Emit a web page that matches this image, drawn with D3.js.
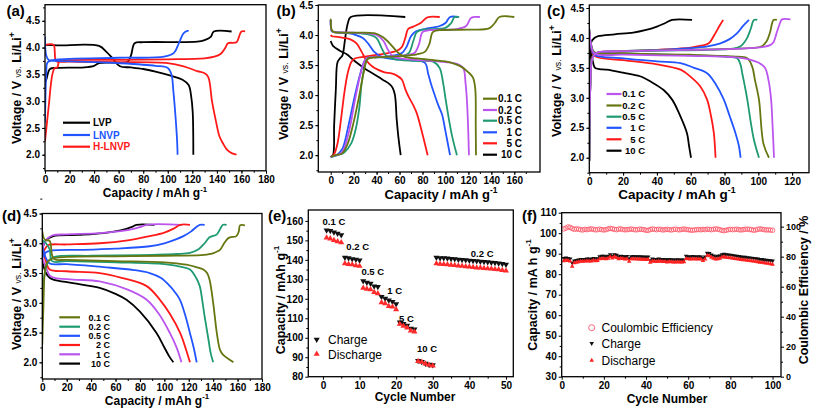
<!DOCTYPE html>
<html><head><meta charset="utf-8">
<script src="https://cdn.jsdelivr.net/npm/d3@7"></script>
<style>body{margin:0;background:#fff}svg{display:block}</style>
</head><body><svg id="c" width="813" height="409"></svg>
<script>
// ---------------- DATA ----------------
// (a) voltage profiles [capacity, voltage]
const aLVP_ch = [[0,3.35],[1.3,3.42],[4,3.6],[10,3.62],[32,3.63],[40,3.66],[44,3.71],[55,3.72],[67,3.73],[70,3.85],[73,4.08],[80,4.1],[124,4.11],[130,4.14],[135,4.2],[137.5,4.3],[152,4.3]];
const aLVP_dis = [[0,4.05],[10,4.04],[44,4.03],[50,3.92],[55,3.8],[61,3.65],[70,3.63],[80,3.6],[90,3.55],[103,3.47],[112,3.4],[117,3.3],[119,3.1],[120.3,2.8],[120.8,2.0]];
const aLNVP_ch = [[0,2.6],[1,3.5],[2,3.72],[5,3.76],[20,3.79],[60,3.81],[97,3.83],[105,3.9],[109,4.08],[113,4.27],[116,4.31],[117,4.31]];
const aLNVP_dis = [[0,4.2],[1,3.85],[3,3.77],[10,3.75],[40,3.73],[60,3.71],[90,3.66],[100,3.62],[103,3.5],[104.5,3.2],[106,2.8],[107.5,2.3],[108,2.0]];
const aHLNVP_ch = [[0,2.25],[3,2.9],[6,3.5],[8,3.62],[10,3.63],[11.5,3.74],[14,3.76],[60,3.77],[100,3.78],[130,3.8],[138,3.83],[143,3.88],[147,4.0],[149,4.08],[156,4.1],[158,4.2],[160,4.3],[163,4.3]];
const aHLNVP_dis = [[0,4.05],[7,4.05],[8,3.9],[9,3.75],[20,3.74],[60,3.73],[100,3.71],[113,3.65],[124,3.56],[130,3.52],[133,3.45],[136,3.0],[139,2.65],[142,2.35],[145,2.21],[148,2.1],[152,2.03],[156,2.0]];
const aNames = ["LVP","LNVP","H-LNVP"];

// (b) rate profiles
const b01_ch = [[0,1.97],[4,2.0],[10,2.03],[15,2.2],[20,2.55],[25,3.0],[29,3.4],[32,3.6],[40,3.63],[60,3.65],[75,3.68],[82,3.72],[86,3.85],[89,4.05],[95,4.08],[120,4.09],[138,4.11],[143,4.2],[147,4.3],[160,4.3]];
const b01_dis = [[0,4.27],[1,4.08],[3,4.05],[20,4.04],[38,4.03],[45,3.97],[52,3.85],[58,3.72],[64,3.64],[75,3.61],[90,3.58],[100,3.56],[108,3.52],[114,3.47],[120,3.38],[124,3.29],[126,3.1],[126.4,2.5],[126.6,2.0]];
const b02_ch = [[0,1.97],[5,2.0],[10,2.05],[16,2.4],[21,2.9],[26,3.35],[30,3.58],[34,3.63],[50,3.64],[65,3.66],[73,3.7],[77,3.85],[80,4.05],[86,4.08],[110,4.1],[118,4.15],[122,4.28],[124,4.3],[130,4.3]];
const b02_dis = [[0,4.25],[1,4.07],[3,4.05],[20,4.04],[40,4.0],[46,3.9],[50,3.75],[54,3.65],[60,3.61],[80,3.58],[100,3.55],[110,3.52],[115.5,3.45],[117.5,3.2],[118.5,2.98],[119.5,2.6],[120.5,2.0]];
const b05_ch = [[0,1.97],[6,2.0],[12,2.05],[18,2.2],[22,2.45],[25,2.8],[27,3.2],[30,3.5],[33,3.62],[50,3.63],[62,3.65],[68,3.7],[72,3.9],[75,4.05],[80,4.09],[100,4.12],[105,4.2],[108,4.3],[112,4.3]];
const b05_dis = [[0,4.25],[1,4.07],[3,4.05],[25,4.03],[35,4.0],[40,3.95],[44,3.8],[48,3.66],[55,3.6],[75,3.57],[90,3.55],[95,3.45],[98,3.2],[100,2.95],[103,2.6],[106,2.3],[110,2.0]];
const b1_ch = [[0,1.97],[5,2.0],[10,2.1],[15,2.45],[20,2.9],[25,3.3],[29,3.55],[32,3.62],[45,3.63],[55,3.66],[62,3.7],[66,3.8],[70,3.98],[74,4.06],[82,4.1],[95,4.15],[100,4.2],[104,4.3],[111,4.3]];
const b1_dis = [[0,4.25],[1,4.06],[3,4.05],[15,4.03],[22,4.0],[28,3.95],[33,3.85],[38,3.72],[44,3.64],[55,3.6],[70,3.58],[82,3.54],[85,3.35],[88,3.15],[91,2.98],[94,2.82],[97,2.68],[100,2.4],[104,2.0]];
const b5_ch = [[0,1.97],[3,2.02],[6,2.2],[9,2.6],[12,3.05],[15,3.38],[18,3.55],[21,3.61],[30,3.64],[40,3.67],[50,3.7],[58,3.74],[62,3.8],[65,3.95],[67.5,4.1],[72,4.14],[79,4.21],[83,4.28],[85,4.3],[95,4.3]];
const b5_dis = [[0,4.0],[1,3.98],[6,3.97],[12.5,3.95],[18,3.92],[22.5,3.86],[27,3.72],[31,3.58],[36,3.48],[41.5,3.42],[47,3.38],[53,3.36],[58,3.32],[62,3.26],[65,3.1],[68,2.97],[72,2.83],[75,2.7],[80,2.35],[84.5,2.0]];
const b10_ch = [[0,1.97],[2,2.0],[3,2.5],[4.5,3.1],[6,3.55],[8.5,3.62],[10,3.65],[11,3.72],[13,4.0],[15,4.2],[17.5,4.3],[65,4.3]];
const b10_dis = [[0,3.9],[2,3.82],[8,3.74],[14,3.68],[20,3.58],[27,3.48],[33,3.4],[38.5,3.34],[45,3.26],[51.5,3.18],[54,3.12],[56,3.0],[57.5,2.6],[59,2.3],[61,2.0]];
const bRates = ["0.1 C","0.2 C","0.5 C","1 C","5 C","10 C"];

// (c) rate profiles
const c01_ch = [[0,1.95],[0.6,3.2],[1.5,3.62],[3,3.72],[5,3.76],[20,3.78],[60,3.8],[90,3.82],[103,3.85],[107,3.88],[109,3.93],[111,4.1],[112.5,4.22],[114,4.31],[119,4.31]];
const c01_dis = [[0,4.15],[1,3.9],[3,3.74],[20,3.72],[60,3.7],[85,3.68],[95,3.64],[100,3.59],[104,3.5],[106,3.3],[107.5,3.0],[108.5,2.5],[109.3,2.0]];
const c02_ch = [[0,1.95],[0.6,3.2],[1.5,3.64],[3,3.73],[5,3.76],[30,3.79],[70,3.81],[95,3.83],[102,3.86],[105,3.95],[107,4.1],[109,4.3],[111,4.3]];
const c02_dis = [[0,4.15],[1,3.9],[3,3.76],[20,3.74],[60,3.72],[85,3.69],[93.5,3.66],[96.4,3.52],[98,3.3],[100.4,2.97],[103,2.24],[106.3,2.0]];
const c05_ch = [[0,1.95],[0.6,3.2],[1.5,3.65],[4,3.74],[30,3.78],[70,3.8],[85,3.82],[89.5,3.86],[93,3.98],[95.5,4.15],[97.4,4.3],[99.4,4.3]];
const c05_dis = [[0,4.15],[1,3.9],[3,3.76],[20,3.74],[60,3.71],[80,3.69],[87.5,3.66],[89.5,3.55],[90.5,3.41],[92,3.2],[93.5,2.97],[95.5,2.6],[97.4,2.3],[100.4,2.0]];
const c1_ch = [[0,1.95],[0.6,3.2],[1.5,3.66],[4,3.74],[20,3.78],[40,3.8],[60,3.83],[70,3.86],[77.6,3.91],[83,3.98],[87.5,4.08],[91,4.2],[94.5,4.3]];
const c1_dis = [[0,4.1],[1,3.85],[3,3.72],[20,3.66],[40,3.61],[53.9,3.58],[62,3.5],[69.7,3.41],[75,3.22],[79.6,2.97],[83,2.7],[86.5,2.41],[88.5,2.2],[89.5,2.0]];
const c5_ch = [[0,1.95],[0.6,3.2],[1.5,3.67],[4,3.74],[20,3.77],[40,3.8],[60,3.84],[66,3.87],[70.7,3.91],[74,4.05],[77,4.2],[79.2,4.3]];
const c5_dis = [[0,4.1],[1,3.85],[3,3.7],[20,3.63],[40,3.56],[54,3.47],[60,3.35],[65.7,3.19],[69.7,2.97],[72,2.7],[73.7,2.41],[74.7,2.0]];
const c10_ch = [[0,1.95],[0.5,3.6],[1,3.92],[3,4.0],[5.3,4.03],[15,4.06],[26,4.09],[33,4.13],[40,4.19],[45,4.25],[49,4.3],[60.8,4.3]];
const c10_dis = [[0,3.95],[1.5,3.7],[3.4,3.5],[6,3.48],[10.3,3.47],[20,3.42],[30,3.36],[37,3.26],[44,3.13],[49,2.97],[53,2.75],[57.8,2.41],[59,2.2],[60.2,2.0]];
const cRates = ["0.1 C","0.2 C","0.5 C","1 C","5 C","10 C"];

// (d) rate profiles
const d01_ch = [[0,2.3],[1,3.0],[2,3.5],[4,3.68],[8,3.74],[20,3.77],[60,3.78],[100,3.79],[130,3.8],[138,3.82],[142,3.85],[145.6,3.89],[149,4.0],[152,4.08],[153.8,4.1],[159,4.12],[161,4.2],[162,4.3],[166,4.3]];
const d01_dis = [[0,4.2],[2,4.06],[6,4.04],[8,3.8],[10,3.73],[20,3.72],[60,3.7],[100,3.68],[118,3.64],[126,3.6],[132,3.56],[135,3.5],[137,3.39],[140,3.0],[143,2.49],[145.6,2.21],[148,2.13],[153.8,2.04],[156.6,2.0]];
const d02_ch = [[0,2.7],[2,3.5],[5,3.7],[10,3.77],[40,3.79],[80,3.8],[110,3.82],[121,3.84],[128,3.9],[133,4.0],[137,4.1],[143,4.15],[146,4.25],[148,4.31],[151,4.31]];
const d02_dis = [[0,4.05],[3,4.0],[6,3.9],[8,3.7],[20,3.7],[60,3.68],[100,3.65],[115,3.6],[121,3.56],[126,3.42],[129,3.28],[131,3.05],[133,2.77],[136,2.4],[138,2.15],[140,2.0]];
const d05_ch = [[0,3.75],[3,3.85],[8,3.88],[33.6,3.89],[60,3.91],[88,3.95],[100,4.0],[110,4.07],[115.6,4.12],[122,4.2],[126,4.27],[129,4.31],[133,4.31]];
const d05_dis = [[0,3.95],[3,3.75],[6,3.66],[20,3.65],[50,3.6],[75,3.55],[88,3.5],[97,3.42],[104.6,3.28],[109,3.17],[112.8,3.05],[117,2.8],[121,2.49],[124,2.25],[126.5,2.0]];
const d2_ch = [[0,3.8],[2,3.9],[5,3.97],[20,3.98],[47,4.0],[70,4.05],[88,4.12],[100,4.18],[108,4.25],[113,4.31],[121,4.31]];
const d2_dis = [[0,3.88],[3,3.7],[6,3.56],[20,3.53],[47,3.5],[65,3.42],[85.5,3.28],[96.4,3.05],[105,2.8],[113,2.49],[118,2.2],[121,2.0]];
const d1_ch = [[0,3.9],[3,4.05],[8,4.13],[20,4.15],[47,4.17],[70,4.22],[80,4.27],[85.5,4.31],[114,4.31]];
const d1_dis = [[0,3.75],[3,3.6],[6,3.46],[10,3.42],[25,3.39],[47,3.36],[70,3.22],[85.5,3.05],[96,2.8],[104.6,2.49],[110,2.25],[114,2.0]];
const d10_ch = [[0,3.9],[3,4.05],[9,4.12],[30,4.14],[50,4.17],[65,4.22],[74,4.28],[77,4.31],[92,4.31]];
const d10_dis = [[0,3.7],[3,3.5],[6,3.42],[9,3.39],[25,3.33],[47,3.25],[60,3.15],[69,3.05],[80,2.85],[93.7,2.49],[100,2.25],[104,2.1],[107.4,2.0]];
const dRates = ["0.1 C","0.2 C","0.5 C","2 C","1 C","10 C"];

// (e) rate capability, cycles 1..50
const eCharge = [155.2,154.9,154.2,153.5,152.8, 141.2,141.0,140.5,140.2,139.8, 129.1,128.4,127.9,126.5,126.2, 121.0,120.2,119.3,118.5,117.3, 107.9,107.2,106.3,104.8,104.4, 88.2,87.7,86.8,86.2,86.0,
  141.2,141.0,140.9,140.8,140.6,140.4,140.2,140.0,139.9,139.7,139.5,139.4,139.2,139.0,138.9,138.7,138.5,138.3,138.0,137.6];
const eDischarge = [151.3,150.9,150.1,149.4,148.9, 138.1,137.8,137.6,137.1,136.8, 125.5,125.1,124.8,123.4,122.7, 118.1,117.6,116.2,115.9,114.5, 107.0,106.0,105.1,103.6,103.1, 87.9,87.5,86.7,86.0,85.6,
  138.1,137.9,137.8,137.6,137.4,137.2,137.0,136.8,136.6,136.4,136.2,136.0,135.9,135.7,135.6,135.4,135.2,135.0,134.7,134.4];
const eRateLabels = ["0.1 C","0.2 C","0.5 C","1 C","5 C","10 C","0.2 C"];
const eRateAt = [[-0.1,157.8],[6.4,145.2],[10.5,132.2],[17.6,122.7],[20.8,108.3],[25.7,92.9],[40.4,141.6]];

// (f) cycling, cycles 1..100
const fCharge = [87.8,88.0,87.8,87.5,85.5, 86.5,86.8,87.0,87.2,87.2, 87.3,87.5,87.5,87.3,87.8,87.5,87.6,88.6,88.8,
  88.8,88.6,88.8,89.6,88.8,89.6,89.3,88.6,88.8,88.7, 88.5,88.7,87.6,88.6,88.7,88.6,88.6,88.6,88.5,88.5,
  88.4,88.5,86.7,87.5,87.3,87.2,87.5,87.3,87.2,87.2, 87.0,87.2,87.1,87.0,87.0,87.1,87.0,87.0,87.0,88.8,
  88.6,88.5,88.7,88.6,88.5,88.6,88.5,87.8,88.5,90.3, 90.2,89.5,89.0,88.6,88.8,89.0,89.6,89.8,89.6,89.5,
  89.3,89.2,89.0,88.8,88.7,88.5,88.4,88.3,88.1,88.0, 87.9,87.8,87.6,87.5,87.3,87.2,87.0,86.9,86.8,86.6,86.5];
const fDischarge = [86.5,86.8,86.6,86.3,83.8, 85.5,85.8,86.0,86.3,86.2, 86.3,86.5,86.4,86.3,86.7,86.5,86.6,87.5,87.6,
  87.6,87.5,87.7,88.5,87.8,88.6,88.0,87.5,87.7,87.6, 87.3,87.5,86.2,87.4,87.5,87.4,87.3,87.3,87.2,87.2,
  87.1,87.2,85.8,86.4,86.2,86.1,86.4,86.2,86.1,86.1, 85.9,86.1,86.0,85.9,85.9,86.0,85.9,85.9,86.0,87.6,
  87.4,87.3,87.5,87.4,87.3,87.4,87.3,86.6,87.3,89.1, 88.9,88.2,87.7,87.3,87.5,87.7,88.3,88.4,88.2,88.0,
  87.9,87.8,87.6,87.4,87.3,87.1,87.0,86.9,86.7,86.6, 86.5,86.3,86.2,86.0,85.8,85.7,85.5,85.4,85.2,85.0,84.8];
const fCE = [98.5,99.0,99.8,99.5,98.8,98.2,98.5,98.3,98.0,97.8, 98.2,98.0,98.3,98.5,98.2,97.9,98.0,98.3,98.0,97.8,
  98.0,98.5,98.8,98.6,98.2,98.0,98.3,98.5,98.1,97.9, 98.0,98.2,98.4,98.1,97.9,98.0,98.3,98.2,98.0,97.6,
  97.5,98.1,98.4,98.2,98.0,98.3,98.1,97.8,98.0,98.2, 98.0,97.8,98.1,98.3,98.0,97.9,98.2,98.4,98.1,98.0,
  97.7,97.6,97.8,98.0,98.1,97.9,98.2,98.0,98.3,98.1, 98.0,98.2,98.5,98.3,98.0,97.5,97.3,97.6,98.0,98.2,
  98.0,98.1,98.3,98.0,97.8,98.0,98.2,98.4,98.1,98.0, 97.6,97.8,98.2,98.5,98.3,98.0,97.8,97.9,97.7,97.6];

// ---------------- STYLE ----------------
const FONT = '"Liberation Sans", Arial, Helvetica, sans-serif';
const OLIVE="#667711", PURPLE="#bb55ee", TEAL="#1f9a72", BLUE="#2255ff", RED="#ff1a1a", BLACK="#000";
const svg = d3.select('#c');
const f1 = d3.format('.1f'), fd = d3.format('d');

function panel(c){
  const x = d3.scaleLinear().domain(c.xd).range(c.xr);
  const y = d3.scaleLinear().domain(c.yd).range(c.yr);
  const [xl,xr2]=c.xr, [yb,yt]=c.yr;
  const g = svg.append('g');
  svg.append('clipPath').attr('id','clip'+c.id).append('rect')
    .attr('x',xl).attr('y',yt).attr('width',xr2-xl).attr('height',yb-yt);
  g.append('g').attr('transform',`translate(0,${yb})`)
    .call(d3.axisBottom(x).tickValues(c.xm).tickSize(2).tickFormat(''));
  g.append('g').attr('transform',`translate(${xl},0)`)
    .call(d3.axisLeft(y).tickValues(c.ym).tickSize(2).tickFormat(''));
  g.append('g').attr('transform',`translate(0,${yb})`)
    .call(d3.axisBottom(x).tickValues(c.xt).tickSize(3).tickPadding(2).tickFormat(c.xf));
  g.append('g').attr('transform',`translate(${xl},0)`)
    .call(d3.axisLeft(y).tickValues(c.yt).tickSize(3).tickPadding(2).tickFormat(c.yf));
  g.selectAll('.domain').remove();
  g.selectAll('.tick text').attr('font-family',FONT).attr('font-weight','bold')
    .attr('font-size',10).attr('fill','#000');
  g.selectAll('.tick line').attr('stroke','#000').attr('stroke-width',1);
  const plot = g.append('g').attr('clip-path',`url(#clip${c.id})`);
  g.append('rect').attr('x',xl).attr('y',yt).attr('width',xr2-xl).attr('height',yb-yt)
    .attr('fill','none').attr('stroke','#000').attr('stroke-width',1.3);
  return {g,plot,x,y};
}
function curves(p, list){
  const ln = d3.line().x(d=>p.x(d[0])).y(d=>p.y(d[1])).curve(d3.curveCatmullRom.alpha(0.5));
  list.forEach(s=>{
    p.plot.append('path').attr('d',ln(s.d)).attr('fill','none').attr('stroke',s.c)
      .attr('stroke-width',1.8).attr('stroke-linejoin','round');
  });
}
function txt(x,y,s,o={}){
  return svg.append('text').attr('x',x).attr('y',y).text(s).attr('font-family',FONT)
    .attr('font-weight',o.w||'bold').attr('font-size',o.fs||10).attr('fill',o.c||'#000')
    .attr('text-anchor',o.a||'start');
}
function capTitle(cx,by,fs,unit){
  const t = svg.append('text').attr('x',cx).attr('y',by).attr('text-anchor','middle')
    .attr('font-family',FONT).attr('font-weight','bold').attr('font-size',fs);
  t.append('tspan').text('Capacity / '+unit);
  t.append('tspan').attr('dy',-fs*0.45).attr('font-size',fs*0.65).text('-1');
}
function voltTitle(cx,cy,fs){
  const t = svg.append('text').attr('transform',`translate(${cx},${cy}) rotate(-90)`)
    .attr('text-anchor','middle').attr('font-family',FONT).attr('font-weight','bold').attr('font-size',fs);
  t.append('tspan').text('Voltage / V ');
  t.append('tspan').attr('font-weight','normal').attr('font-size',fs*0.7).text('vs.');
  t.append('tspan').text(' Li/Li');
  t.append('tspan').attr('dy',-fs*0.45).attr('font-size',fs*0.7).text('+');
}
function rotTitle(cx,cy,fs,parts){
  const t = svg.append('text').attr('transform',`translate(${cx},${cy}) rotate(-90)`)
    .attr('text-anchor','middle').attr('font-family',FONT).attr('font-weight','bold').attr('font-size',fs);
  parts.forEach(p=>{const s=t.append('tspan').text(p[0]); if(p[1]) s.attr('dy',p[1]).attr('font-size',fs*0.65);});
}
function legendLines(items, x0, x1, tx, rows, fs, anchor, colored){
  items.forEach((it,i)=>{
    svg.append('line').attr('x1',x0).attr('x2',x1).attr('y1',rows[i]).attr('y2',rows[i])
      .attr('stroke',it.c).attr('stroke-width',2.2);
    txt(tx, rows[i]+fs*0.36, it.n, {fs, a:anchor, c: colored?it.c:'#000'});
  });
}
const vMinor = d3.range(1.75,4.8,0.25);

// ---------------- (a) ----------------
const pa = panel({id:'a', xd:[0,180], xr:[45,266], yd:[1.7,4.8], yr:[170.8,4.7],
  xt:d3.range(0,181,20), xm:d3.range(10,180,10), yt:[2.0,2.5,3.0,3.5,4.0,4.5], ym:vMinor, xf:fd, yf:f1});
curves(pa,[{d:aLVP_ch,c:BLACK},{d:aLVP_dis,c:BLACK},{d:aHLNVP_ch,c:RED},{d:aHLNVP_dis,c:RED},{d:aLNVP_ch,c:BLUE},{d:aLNVP_dis,c:BLUE}]);
legendLines(aNames.map((n,i)=>({n,c:[BLACK,BLUE,RED][i]})), 63, 90, 93, [122.7,135,146.7], 10, 'start', true);
capTitle(155,197,12,'mAh g');
voltTitle(21,88,12.5);
txt(6.5,16,'(a)',{fs:15});

// ---------------- (b) ----------------
const pb = panel({id:'b', xd:[-10.8,182.4], xr:[318.3,540], yd:[1.72,4.5], yr:[172,5],
  xt:d3.range(0,161,20), xm:d3.range(10,180,10), yt:[2.0,2.5,3.0,3.5,4.0,4.5], ym:vMinor, xf:fd, yf:f1});
const bCols=[OLIVE,PURPLE,TEAL,BLUE,RED,BLACK];
const bData=[[b01_ch,b01_dis],[b02_ch,b02_dis],[b05_ch,b05_dis],[b1_ch,b1_dis],[b5_ch,b5_dis],[b10_ch,b10_dis]];
curves(pb, bData.slice().reverse().flatMap((p,i)=>p.map(d=>({d,c:bCols[5-i]}))));
legendLines(bRates.map((n,i)=>({n,c:bCols[i]})), 483, 497, 522, [98.7,110,120.7,132.3,143.3,154.7], 10, 'end', false);
capTitle(441,199,13,'mAh g');
voltTitle(288,84,12.5);
txt(276.5,16,'(b)',{fs:15});

// ---------------- (c) ----------------
const pc = panel({id:'c', xd:[0,130], xr:[589.3,809], yd:[1.75,4.55], yr:[172.7,5],
  xt:d3.range(0,121,20), xm:d3.range(10,130,10), yt:[2.0,2.5,3.0,3.5,4.0,4.5], ym:vMinor, xf:fd, yf:f1});
const cCols=[PURPLE,OLIVE,TEAL,BLUE,RED,BLACK];
const cData=[[c01_ch,c01_dis],[c02_ch,c02_dis],[c05_ch,c05_dis],[c1_ch,c1_dis],[c5_ch,c5_dis],[c10_ch,c10_dis]];
curves(pc, cData.slice().reverse().flatMap((p,i)=>p.map(d=>({d,c:cCols[5-i]}))));
legendLines(cRates.map((n,i)=>({n,c:cCols[i]})), 606.5, 621.5, 645, [94,105.5,116.7,127.8,139.3,150.7], 9.5, 'end', false);
capTitle(677,199,13.5,'mAh g');
voltTitle(560.5,81,12.5);
txt(547,16,'(c)',{fs:15});

// ---------------- (d) ----------------
const pd = panel({id:'d', xd:[0,180], xr:[42.3,262], yd:[1.72,4.5], yr:[379,213.5],
  xt:d3.range(0,181,20), xm:d3.range(10,180,10), yt:[2.0,2.5,3.0,3.5,4.0,4.5], ym:vMinor, xf:fd, yf:f1});
const dCols=[OLIVE,TEAL,BLUE,RED,PURPLE,BLACK];
const dData=[[d01_ch,d01_dis],[d02_ch,d02_dis],[d05_ch,d05_dis],[d2_ch,d2_dis],[d1_ch,d1_dis],[d10_ch,d10_dis]];
curves(pd, dData.slice().reverse().flatMap((p,i)=>p.map(d=>({d,c:dCols[5-i]}))));
legendLines(dRates.map((n,i)=>({n,c:dCols[i]})), 59.3, 80, 110, [317.3,326.7,335.8,345,354.3,363.6], 9, 'end', false);
capTitle(157,404.5,12,'mAh g');
voltTitle(21,294,12.5);
txt(2,221,'(d)',{fs:15});

// ---------------- (e) ----------------
const pe = panel({id:'e', xd:[-4,52], xr:[308.3,513.3], yd:[80,165.6], yr:[376.7,210],
  xt:d3.range(0,51,10), xm:d3.range(5,51,10), yt:d3.range(80,161,10), ym:d3.range(85,165,10), xf:fd, yf:fd});
const triDown = d3.symbol().type(d3.symbolTriangle).size(16);
pe.plot.selectAll('.ec').data(eCharge).join('path').attr('d',triDown)
  .attr('transform',(d,i)=>`translate(${pe.x(i+1)},${pe.y(d)}) rotate(180)`).attr('fill','#111');
pe.plot.selectAll('.ed').data(eDischarge).join('path').attr('d',triDown)
  .attr('transform',(d,i)=>`translate(${pe.x(i+1)},${pe.y(d)})`).attr('fill','#ff2a2a');
eRateLabels.forEach((s,i)=>txt(pe.x(eRateAt[i][0]),pe.y(eRateAt[i][1]),s,{fs:9.5}));
svg.append('path').attr('d',triDown).attr('transform','translate(316.7,339.5) rotate(180)').attr('fill','#111');
txt(328,344,'Charge',{fs:12,w:'normal'});
svg.append('path').attr('d',triDown).attr('transform','translate(316.7,354)').attr('fill','#ff2a2a');
txt(328,358.5,'Discharge',{fs:12,w:'normal'});
rotTitle(284.5,300,12.5,[['Capacity / mAh g'],['-1',-5.5]]);
txt(415,401,'Cycle Number',{fs:12,a:'middle'});
txt(268,221,'(e)',{fs:15});

// ---------------- (f) ----------------
const pf = panel({id:'f', xd:[0,104], xr:[561.7,781], yd:[30,110], yr:[376.7,212.7],
  xt:d3.range(0,101,20), xm:d3.range(10,101,20), yt:d3.range(30,111,10), ym:d3.range(35,110,10), xf:fd, yf:fd});
const yR = d3.scaleLinear().domain([0,109.3]).range([376.7,212.7]);
const gr = svg.append('g').attr('transform','translate(781,0)')
  .call(d3.axisRight(yR).tickValues(d3.range(0,101,20)).tickSize(3).tickPadding(2).tickFormat(fd));
svg.append('g').attr('transform','translate(781,0)')
  .call(d3.axisRight(yR).tickValues(d3.range(10,101,20)).tickSize(2).tickFormat('')).select('.domain').remove();
gr.select('.domain').remove();
gr.selectAll('.tick text').attr('font-family',FONT).attr('font-weight','bold').attr('font-size',9).attr('fill','#000');
const triF = d3.symbol().type(d3.symbolTriangle).size(9);
pf.plot.selectAll('.fce').data(fCE).join('circle').attr('cx',(d,i)=>pf.x(i+1)).attr('cy',d=>yR(d))
  .attr('r',2.3).attr('fill','none').attr('stroke','#ff5566').attr('stroke-width',0.8);
pf.plot.selectAll('.fc').data(fCharge).join('path').attr('d',triF)
  .attr('transform',(d,i)=>`translate(${pf.x(i+1)},${pf.y(d)}) rotate(180)`).attr('fill','#111');
pf.plot.selectAll('.fd').data(fDischarge).join('path').attr('d',triF)
  .attr('transform',(d,i)=>`translate(${pf.x(i+1)},${pf.y(d)})`).attr('fill','#ff2020');
svg.append('circle').attr('cx',591.7).attr('cy',327.7).attr('r',3).attr('fill','none').attr('stroke','#ff5566').attr('stroke-width',0.9);
txt(601.5,332,'Coulombic Efficiency',{fs:12,w:'normal'});
svg.append('path').attr('d',triF).attr('transform','translate(591.7,343.3) rotate(180)').attr('fill','#111');
txt(601.5,347.5,'Charge',{fs:12,w:'normal'});
svg.append('path').attr('d',triF).attr('transform','translate(591.7,360.5)').attr('fill','#ff2020');
txt(601.5,364.5,'Discharge',{fs:12,w:'normal'});
rotTitle(536.5,295,12.5,[['Capacity / mA h g'],['-1',-5.5]]);
rotTitle(807.5,290,12.5,[['Coulombic Efficiency / %']]);
txt(667,403,'Cycle Number',{fs:12,a:'middle'});
txt(522,221,'(f)',{fs:15});
</script></body></html>
